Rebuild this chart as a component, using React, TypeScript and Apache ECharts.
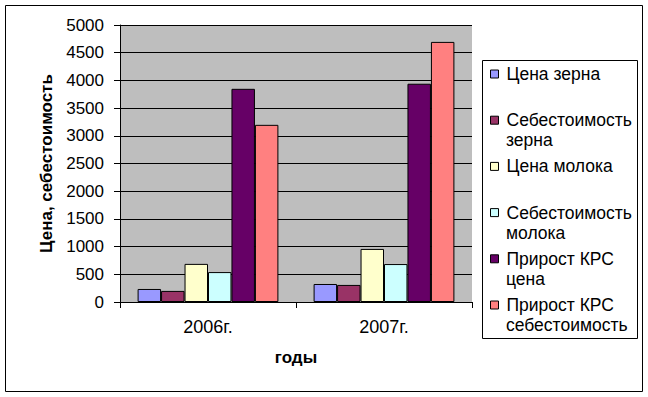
import React, { useEffect, useRef } from "react";
import * as echarts from "echarts";

const categories = ["2006г.", "2007г."];
const seriesNames = [
  "Цена зерна",
  "Себестоимость зерна",
  "Цена молока",
  "Себестоимость молока",
  "Прирост КРС цена",
  "Прирост КРС себестоимость",
];
const legendFirstLines = ["Цена зерна", "Себестоимость", "Цена молока", "Себестоимость", "Прирост КРС", "Прирост КРС"];
const legendSecondLines = ["", "зерна", "", "молока", "цена", "себестоимость"];
const grainPrice = [235, 325];
const grainCost = [200, 308];
const milkPrice = [688, 958];
const milkCost = [540, 685];
const cattlePrice = [3848, 3940];
const cattleCost = [3198, 4695];
const colors = ["#9999FF", "#993366", "#FFFFCC", "#CCFFFF", "#660066", "#FF8080"];
const yTicks = { min: 0, max: 5000, interval: 500 };

const FONT = "Arial, 'Liberation Sans', sans-serif";

export default function App() {
  const ref = useRef<HTMLDivElement>(null);
  useEffect(() => {
    if (!ref.current) return;
    const chart = echarts.init(ref.current, undefined, { renderer: "svg" });
    const values = [grainPrice, grainCost, milkPrice, milkCost, cattlePrice, cattleCost];
    const firstCenter = 74;
    const slot = 46.2;
    const lh = 18;
    chart.setOption({
      animation: false,
      backgroundColor: "#fff",
      textStyle: { fontFamily: FONT },
      grid: { left: 120, top: 25, right: 176, bottom: 95, show: true, backgroundColor: "#BEBEBE", borderWidth: 0 },
      xAxis: {
        type: "category",
        data: categories,
        name: "годы",
        nameLocation: "middle",
        nameGap: 47,
        nameTextStyle: { fontSize: 17, fontWeight: "bold", color: "#000", fontFamily: FONT },
        axisLine: { lineStyle: { color: "#000", width: 1 } },
        axisTick: { show: true, length: 6, lineStyle: { color: "#000" } },
        axisLabel: { fontSize: 18, color: "#000", margin: 16, fontFamily: FONT },
      },
      yAxis: {
        type: "value",
        min: yTicks.min,
        max: yTicks.max,
        interval: yTicks.interval,
        name: "Цена, себестоимость",
        nameLocation: "middle",
        nameGap: 63,
        nameRotate: 90,
        nameTextStyle: { fontSize: 17, fontWeight: "bold", color: "#000", fontFamily: FONT },
        axisLine: { show: true, lineStyle: { color: "#000", width: 1 } },
        axisTick: { show: true, length: 6, lineStyle: { color: "#000" } },
        axisLabel: { fontSize: 17, color: "#000", margin: 16, fontFamily: FONT, formatter: (v: number) => String(v) },
        splitLine: { show: true, lineStyle: { color: "#000", width: 1 } },
      },
      legend: {
        orient: "vertical",
        left: 490,
        top: firstCenter - lh / 2,
        padding: 0,
        itemWidth: 8,
        itemHeight: 8,
        itemGap: slot - lh,
        icon: "rect",
        data: seriesNames,
        formatter: (name: string) => legendFirstLines[seriesNames.indexOf(name)],
        textStyle: { fontSize: 17.5, color: "#000", lineHeight: lh, fontFamily: FONT, padding: [0, 0, 0, 3] },
        itemStyle: { borderColor: "#000", borderWidth: 1 },
        selectedMode: false,
      },
      graphic: [
        {
          type: "rect",
          shape: { x: 5.5, y: 5.5, width: 637, height: 386 },
          style: { fill: "none", stroke: "#000", lineWidth: 1 },
          silent: true,
        },
        {
          type: "rect",
          shape: { x: 482.5, y: 60.5, width: 155, height: 278 },
          style: { fill: "none", stroke: "#000", lineWidth: 1 },
          silent: true,
        },
        ...legendSecondLines
          .map((t, i) => ({ t, i }))
          .filter((o) => o.t)
          .map((o) => ({
            type: "text",
            x: 506,
            y: firstCenter + o.i * slot + 20,
            style: { text: o.t, fontSize: 17.5, fill: "#000", fontFamily: FONT, verticalAlign: "middle", align: "left" },
            silent: true,
          })),
      ],
      series: seriesNames.map((name, i) => ({
        name,
        type: "bar",
        data: values[i],
        barGap: "0%",
        barCategoryGap: "20%",
        itemStyle: { color: colors[i], borderColor: "#000", borderWidth: 1 },
      })),
    });
    return () => chart.dispose();
  }, []);
  return <div ref={ref} style={{ width: 648, height: 397, position: "absolute", left: 0, top: 0 }} />;
}
